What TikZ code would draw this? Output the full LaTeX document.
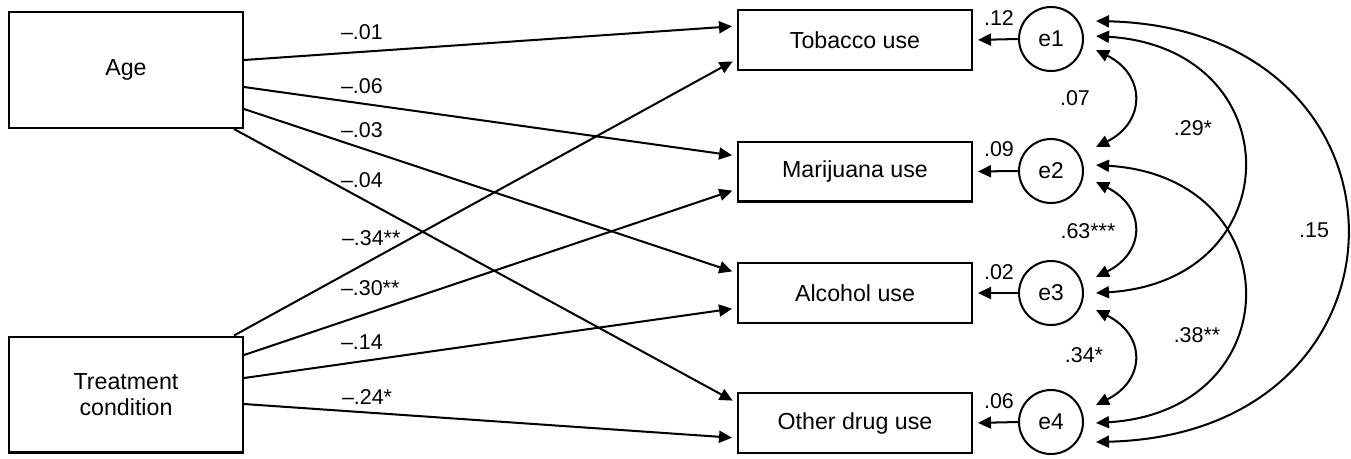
\documentclass[tikz,border=0pt]{standalone}
\usepackage{fontspec}
\setmainfont{Liberation Sans}
\usetikzlibrary{arrows.meta}

\begin{document}
\begin{tikzpicture}[x=0.02cm, y=-0.02cm, line width=1.15pt,
    bigbox/.style={draw, minimum width=4.68cm, minimum height=2.32cm, inner sep=0pt, align=center, font=\fontsize{13.2}{14.8}\selectfont},
    usebox/.style={draw, minimum width=4.68cm, minimum height=1.2cm, inner sep=0pt, font=\fontsize{13.2}{14.8}\selectfont},
    errnode/.style={draw, circle, minimum size=1.28cm, inner sep=0pt, font=\fontsize{13}{14}\selectfont},
    coef/.style={inner sep=0pt, font=\fontsize{12.2}{14}\selectfont},
    effect/.style={-{Triangle[length=2.6mm,width=2.4mm]}, shorten >=0.1cm},
    cov/.style={{Triangle[length=2.6mm,width=2.4mm]}-{Triangle[length=2.6mm,width=2.4mm]}}]
    \useasboundingbox (0,0) rectangle (1351,458);
    \node[bigbox] (age) at (126,70) {Age};
    \node[bigbox] (treat) at (126,394.5) {Treatment\\condition};
    \node[usebox] (tob) at (855,40) {Tobacco use};
    \node[usebox] (mar) at (855,171.5) {Marijuana use};
    \node[usebox] (alc) at (855,293) {Alcohol use};
    \node[usebox] (oth) at (855,423) {Other drug use};
    \foreach \i/\y in {1/39,2/171,3/293,4/422}
        \node[errnode] (e\i) at (1051,\y) {e\i};
    \draw[effect] (e1.west) -- (tob.east);
    \draw[effect] (e2.west) -- (mar.east);
    \draw[effect] (e3.west) -- (alc.east);
    \draw[effect] (e4.west) -- (oth.east);
    \draw[effect] ([yshift=0.2cm]age.east) -- ([yshift=0.28cm]tob.west);
    \draw[effect] ([yshift=-0.34cm]age.east) -- ([yshift=0.31cm]mar.west);
    \draw[effect] ([yshift=-0.78cm]age.east) -- ([yshift=0.4cm]alc.west);
    \draw[effect] ([xshift=-0.2cm]age.south east) -- ([yshift=0.4cm]oth.west);
    \draw[effect] ([xshift=-0.2cm]treat.north east) -- ([yshift=-0.38cm]tob.west);
    \draw[effect] ([yshift=0.79cm]treat.east) -- ([yshift=-0.35cm]mar.west);
    \draw[effect] ([yshift=0.33cm]treat.east) -- ([yshift=-0.3cm]alc.west);
    \draw[effect] ([yshift=-0.19cm]treat.east) -- ([yshift=-0.3cm]oth.west);
    \node[coef, anchor=west] (ageTob) at (340,32) {–.01};
    \node[coef, anchor=west] (ageMar) at (340,86) {–.06};
    \node[coef, anchor=west] (ageAlc) at (340,130) {–.03};
    \node[coef, anchor=west] (ageOth) at (340,180) {–.04};
    \node[coef, anchor=west] (treatTob) at (341,238) {–.34**};
    \node[coef, anchor=west] (treatMar) at (340,288) {–.30**};
    \node[coef, anchor=west] (treatAlc) at (340,342) {–.14};
    \node[coef, anchor=west] (treatOth) at (341,397) {–.24*};
    \node[coef] (r1) at (999,18) {.12};
    \node[coef] (r2) at (999,149) {.09};
    \node[coef] (r3) at (999,272) {.02};
    \node[coef] (r4) at (999,401) {.06};
    \draw[cov] ([xshift=0.24cm,yshift=-0.22cm]e1.east) .. controls +(50,25) and +(50,-25) .. ([xshift=0.24cm,yshift=0.48cm]e2.east);
    \draw[cov] ([xshift=0.24cm,yshift=-0.22cm]e2.east) .. controls +(50,25) and +(50,-25) .. ([xshift=0.24cm,yshift=0.32cm]e3.east);
    \draw[cov] ([xshift=0.24cm,yshift=-0.34cm]e3.east) .. controls +(50,25) and +(50,-25) .. ([xshift=0.24cm,yshift=0.34cm]e4.east);
    \draw[cov] ([xshift=0.24cm,yshift=0.06cm]e1.east) .. controls +(196,12) and +(196,-12) .. ([xshift=0.24cm]e3.east);
    \draw[cov] ([xshift=0.24cm,yshift=0.12cm]e2.east) .. controls +(196,12) and +(196,-12) .. ([xshift=0.24cm,yshift=-0.02cm]e4.east);
    \draw[cov] ([xshift=0.24cm,yshift=0.36cm]e1.east) .. controls +(333,8) and +(333,-8) .. ([xshift=0.24cm,yshift=-0.4cm]e4.east);
    \node[coef] (c12) at (1075,98) {.07};
    \node[coef] (c23) at (1088,231) {.63***};
    \node[coef] (c34) at (1084,355) {.34*};
    \node[coef] (c13) at (1193,128) {.29*};
    \node[coef] (c24) at (1197,335) {.38**};
    \node[coef] (c14) at (1314,230) {.15};
\end{tikzpicture}
\end{document}
